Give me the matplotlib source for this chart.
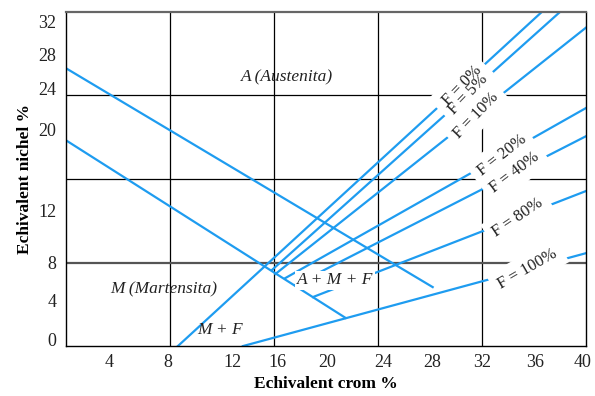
import matplotlib.pyplot as plt

plt.rcParams['font.family'] = ['Liberation Serif', 'DejaVu Serif']

# boundary lines (Cr eq, Ni eq)
upper_x = [0, 28.2]
upper_y = [26.6, 5.65]
lower_x = [0, 21.5]
lower_y = [19.7, 2.7]

# ferrite content lines: start and end points
ferrite_names = ['F = 0%', 'F = 5%', 'F = 10%', 'F = 20%', 'F = 40%', 'F = 80%', 'F = 100%']
ferrite_x0 = [8.6, 15.85, 16.1, 16.85, 17.6, 19.0, 13.6]
ferrite_y0 = [0.0, 7.3, 6.9, 6.5, 5.85, 4.7, 0.0]
ferrite_x1 = [36.6, 38.0, 40.0, 40.0, 40.0, 40.0, 40.0]
ferrite_y1 = [32.0, 32.0, 30.5, 22.8, 20.1, 14.85, 8.9]

# tick labels (placed where they sit on the original scan)
xtick_pos = [3.3, 7.8, 12.8, 16.3, 20.1, 24.4, 28.2, 32.0, 36.1, 39.7]
xtick_lab = ['4', '8', '12', '16', '20', '24', '28', '32', '36', '40']
ytick_pos = [31.1, 27.9, 24.7, 20.7, 13.0, 8.0, 4.4, 0.6]
ytick_lab = ['32', '28', '24', '20', '12', '8', '4', '0']

blue = '#1e9cf0'

fig = plt.figure(figsize=(5.95, 3.96), dpi=100)
ax = fig.add_axes([0.111, 0.126, 0.874, 0.844])
ax.set_xlim(0, 40)
ax.set_ylim(0, 32)

# grid
for gx in [8, 16, 24, 32]:
    ax.axvline(gx, color='black', lw=0.9, zorder=1)
for gy in [16, 24]:
    ax.axhline(gy, color='black', lw=0.9, zorder=1)
ax.axhline(8, color='#555555', lw=1.6, zorder=1)

for s in ax.spines.values():
    s.set_color('black')
    s.set_linewidth(1.0)
ax.spines['top'].set_color('#666666')
ax.spines['top'].set_linewidth(1.6)

# lines
ax.plot(upper_x, upper_y, color=blue, lw=1.6, zorder=2)
ax.plot(lower_x, lower_y, color=blue, lw=1.6, zorder=2)
for i in range(len(ferrite_names)):
    ax.plot([ferrite_x0[i], ferrite_x1[i]], [ferrite_y0[i], ferrite_y1[i]],
            color=blue, lw=1.6, zorder=2)

# ferrite labels: position along the line and text angle
label_t = [0.78, 0.68, 0.645, 0.72, 0.755, 0.75, 0.83]
label_rot = [46, 46, 46, 38, 37, 34, 30]
for i in range(len(ferrite_names)):
    t = label_t[i]
    lx = ferrite_x0[i] + t * (ferrite_x1[i] - ferrite_x0[i])
    ly = ferrite_y0[i] + t * (ferrite_y1[i] - ferrite_y0[i])
    # white box first so stacked labels don't hide each other
    ax.text(lx, ly, ferrite_names[i], rotation=label_rot[i], fontsize=12,
            ha='center', va='center', rotation_mode='anchor', color='none',
            bbox=dict(boxstyle='square,pad=0.4', fc='white', ec='none'), zorder=3)
    ax.text(lx, ly, ferrite_names[i], rotation=label_rot[i], fontsize=12,
            ha='center', va='center', rotation_mode='anchor', color='#222222', zorder=4)

# region labels
ax.text(17.0, 25.7, 'A (Austenita)', style='italic', fontsize=12.5,
        ha='center', va='center', color='#222222', zorder=4)
ax.text(7.5, 5.4, 'M (Martensita)', style='italic', fontsize=12.5,
        ha='center', va='center', color='#222222', zorder=4)
ax.text(11.85, 1.5, 'M + F', style='italic', fontsize=12.5,
        ha='center', va='center', color='#222222', zorder=4)
ax.text(20.7, 6.3, 'A + M + F', style='italic', fontsize=12.5,
        ha='center', va='center', color='#222222', zorder=4,
        bbox=dict(boxstyle='square,pad=0.1', fc='white', ec='none'))

ax.set_xticks(xtick_pos)
ax.set_xticklabels(xtick_lab)
ax.set_yticks(ytick_pos)
ax.set_yticklabels(ytick_lab)
ax.tick_params(length=0, labelsize=13, colors='#222222')
ax.tick_params(axis='x', pad=6)
ax.tick_params(axis='y', pad=7)

ax.set_xlabel('Echivalent crom %', fontsize=12.5, fontweight='bold', labelpad=3)
ax.set_ylabel('Echivalent nichel %', fontsize=12.5, fontweight='bold', labelpad=4)

plt.savefig('out.png', dpi=100)
